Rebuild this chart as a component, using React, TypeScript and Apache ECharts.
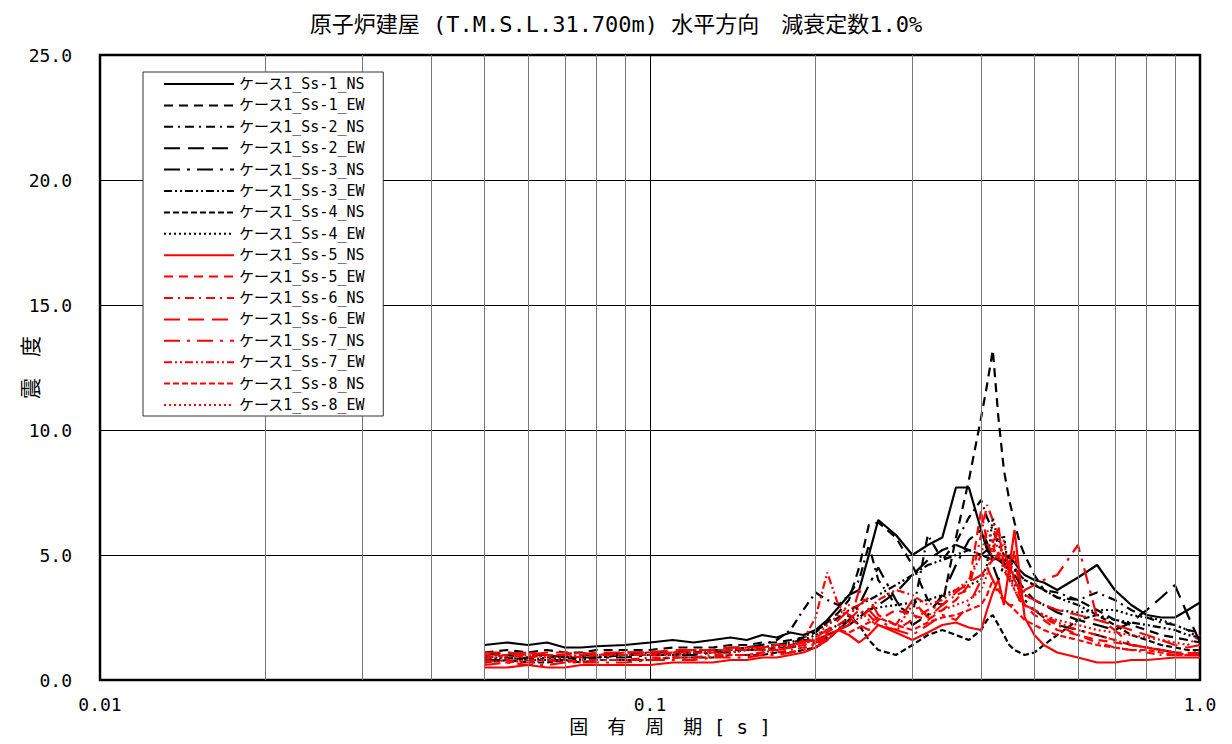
import React, { useEffect, useRef } from "react";
import * as echarts from "echarts";

// Natural period [s]
const periods = [
  0.05, 0.055, 0.06, 0.065, 0.07, 0.075, 0.08, 0.09, 0.1, 0.11, 0.12, 0.13, 0.14, 0.15, 0.16, 0.17, 0.18, 0.19,
  0.2, 0.21, 0.22, 0.23, 0.24, 0.25, 0.26, 0.28, 0.3, 0.32, 0.34, 0.36, 0.38,
  0.4, 0.41, 0.42, 0.43, 0.44, 0.45, 0.46, 0.47, 0.48, 0.5,
  0.52, 0.55, 0.6, 0.65, 0.7, 0.75, 0.8, 0.85, 0.9, 0.95, 1.0,
];

// Response spectra values (seismic intensity) per wave / direction
const ss1NS = [
  1.4, 1.5, 1.4, 1.5, 1.3, 1.3, 1.35, 1.4, 1.5, 1.6, 1.5, 1.6, 1.7, 1.6, 1.8, 1.7, 1.9, 1.8,
  2.0, 2.4, 2.9, 3.4, 3.6, 5.0, 6.4, 5.8, 5.0, 5.4, 5.7, 7.7, 7.7,
  6.0, 5.2, 4.9, 4.8, 4.8, 4.9, 4.7, 4.4, 4.2, 4.0,
  3.9, 3.6, 4.1, 4.6, 3.6, 3.0, 2.6, 2.5, 2.5, 2.8, 3.1,
];
const ss1EW = [
  1.1, 1.2, 1.1, 1.2, 1.1, 1.1, 1.2, 1.2, 1.2, 1.3, 1.3, 1.3, 1.4, 1.4, 1.5, 1.5, 1.6, 1.7,
  1.9, 2.3, 2.7, 3.2, 4.5, 6.2, 6.3, 5.7, 4.6, 3.2, 3.0, 5.7, 8.0,
  10.5, 11.8, 13.2, 10.5, 8.4, 7.2, 6.3, 5.5, 5.0, 4.2,
  3.6, 3.3, 3.2, 2.8, 2.4, 2.2, 2.0, 1.8, 1.7, 1.6, 1.5,
];
const ss2NS = [
  0.9, 1.0, 0.9, 1.0, 0.9, 0.9, 1.0, 1.0, 1.1, 1.0, 1.1, 1.2, 1.2, 1.3, 1.4, 1.6, 2.0, 2.8,
  3.5, 3.2, 3.0, 3.4, 4.0, 5.4, 4.0, 3.0, 2.6, 5.8, 4.8, 5.5, 6.5,
  7.2, 6.5, 6.0, 5.4, 5.0, 4.8, 4.5, 4.2, 4.0, 3.8,
  3.6, 3.5, 3.2, 3.5, 3.2, 2.8, 2.5, 2.3, 2.2, 2.0, 1.9,
];
const ss2EW = [
  1.0, 1.1, 1.0, 1.0, 0.9, 1.0, 1.0, 1.1, 1.1, 1.1, 1.2, 1.2, 1.3, 1.3, 1.4, 1.4, 1.5, 1.6,
  1.6, 1.8, 2.0, 2.2, 2.5, 2.8, 3.0, 3.5, 4.2, 4.8, 5.2, 5.4, 5.2,
  5.0, 5.2, 5.0, 4.8, 4.6, 4.4, 4.2, 3.9, 3.6, 3.2,
  3.0, 2.7, 2.4, 2.2, 2.0, 2.3, 2.8, 3.3, 3.8, 2.6, 1.5,
];
const ss3NS = [
  0.8, 0.8, 0.9, 0.8, 0.8, 0.9, 0.9, 0.9, 1.0, 1.0, 1.0, 1.1, 1.1, 1.2, 1.2, 1.3, 1.3, 1.4,
  1.5, 1.7, 2.0, 2.4, 3.0, 3.8, 4.5, 3.2, 2.2, 2.6, 3.4, 4.6, 5.6,
  6.0, 5.5, 4.6, 4.0, 4.6, 5.0, 4.5, 3.8, 3.2, 2.8,
  2.5, 2.2, 2.0, 1.8, 1.6, 1.4, 1.3, 1.2, 1.1, 1.0, 1.0,
];
const ss3EW = [
  0.9, 0.9, 0.8, 0.9, 0.9, 0.8, 0.9, 1.0, 1.0, 1.0, 1.1, 1.1, 1.2, 1.2, 1.3, 1.4, 1.5, 1.7,
  2.0, 2.2, 2.5, 2.8, 3.0, 3.2, 3.4, 3.8, 4.2, 4.6, 4.8, 5.0, 5.2,
  5.0, 4.9, 4.8, 4.9, 4.7, 4.5, 4.4, 4.2, 4.0, 3.8,
  3.6, 3.3, 3.0, 2.6, 2.4, 2.3, 2.2, 2.1, 2.0, 1.8, 1.7,
];
const ss4NS = [
  0.7, 0.8, 0.7, 0.7, 0.8, 0.7, 0.8, 0.8, 0.8, 0.9, 0.9, 0.9, 1.0, 1.0, 1.0, 1.1, 1.1, 1.2,
  1.3, 1.6, 2.0, 2.6, 2.2, 1.6, 1.2, 1.0, 1.4, 1.8, 2.0, 1.8, 1.6,
  2.0, 2.4, 2.6, 2.2, 1.8, 1.4, 1.2, 1.1, 1.0, 1.1,
  1.4, 1.8, 2.4, 2.6, 2.2, 1.8, 1.6, 1.4, 1.3, 1.2, 1.2,
];
const ss4EW = [
  0.8, 0.9, 0.8, 0.8, 0.9, 0.9, 0.9, 1.0, 1.0, 1.0, 1.1, 1.1, 1.1, 1.2, 1.2, 1.3, 1.4, 1.6,
  1.8, 2.0, 2.2, 2.4, 2.6, 2.8, 2.9, 3.0, 3.1, 3.2, 3.4, 3.6, 3.8,
  4.0, 4.6, 6.5, 5.5, 5.8, 4.2, 3.8, 3.6, 3.4, 3.2,
  3.0, 2.8, 2.7, 2.8, 2.8, 2.6, 2.5, 2.4, 2.2, 2.0, 1.6,
];
const ss5NS = [
  0.5, 0.5, 0.6, 0.5, 0.5, 0.6, 0.6, 0.6, 0.6, 0.7, 0.7, 0.7, 0.8, 0.8, 0.9, 0.9, 1.0, 1.1,
  1.3, 1.6, 2.0, 1.8, 1.5, 1.8, 2.2, 1.9, 1.6, 1.9, 2.2, 2.3, 2.1,
  2.0, 2.8, 3.5, 4.0, 3.0, 4.5, 6.0, 4.2, 2.5, 1.8,
  1.4, 1.1, 0.9, 0.7, 0.7, 0.8, 0.8, 0.85, 0.9, 0.9, 0.9,
];
const ss5EW = [
  0.9, 1.0, 0.9, 1.0, 1.0, 0.9, 1.0, 1.0, 1.0, 1.1, 1.1, 1.1, 1.2, 1.2, 1.2, 1.2, 1.3, 1.4,
  1.6, 1.9, 2.2, 2.5, 2.2, 2.0, 2.4, 2.8, 2.6, 2.4, 2.8, 3.2, 3.8,
  6.8, 5.5, 5.0, 6.2, 4.4, 4.0, 5.2, 3.5, 3.0, 2.6,
  2.4, 2.0, 1.8, 1.6, 1.5, 1.4, 1.3, 1.2, 1.1, 1.1, 1.0,
];
const ss6NS = [
  0.8, 0.7, 0.8, 0.8, 0.7, 0.8, 0.8, 0.8, 0.9, 0.9, 0.9, 1.0, 1.0, 1.0, 1.1, 1.1, 1.2, 1.3,
  1.4, 1.7, 2.0, 2.4, 2.8, 2.6, 2.2, 2.0, 2.4, 2.8, 3.0, 3.4, 3.6,
  5.8, 7.0, 6.4, 5.0, 4.4, 4.8, 4.0, 3.4, 3.0, 2.8,
  2.5, 2.2, 1.8, 1.5, 1.3, 1.2, 1.1, 1.0, 1.0, 1.0, 1.2,
];
const ss6EW = [
  1.1, 1.1, 1.0, 1.1, 1.1, 1.0, 1.1, 1.1, 1.1, 1.2, 1.2, 1.2, 1.3, 1.3, 1.3, 1.4, 1.4, 1.5,
  1.7, 2.0, 2.4, 2.8, 3.0, 3.3, 2.6, 2.2, 3.2, 2.5, 3.0, 3.5, 3.9,
  4.2, 4.5, 4.8, 5.0, 5.2, 4.4, 4.0, 3.6, 3.4, 3.2,
  3.0, 2.8, 2.6, 2.4, 2.2, 2.0, 1.8, 1.6, 1.4, 1.3, 1.4,
];
const ss7NS = [
  0.6, 0.7, 0.6, 0.6, 0.7, 0.7, 0.7, 0.7, 0.8, 0.8, 0.8, 0.9, 0.9, 0.9, 1.0, 1.0, 1.1, 1.2,
  1.5, 1.8, 2.0, 2.2, 3.6, 2.8, 2.4, 2.0, 1.8, 2.2, 2.6, 2.4, 3.0,
  4.0, 4.5, 4.0, 3.4, 3.2, 3.0, 3.0, 3.2, 3.6, 3.8,
  4.0, 4.2, 5.4, 2.5, 2.0, 1.4, 1.3, 1.2, 1.1, 1.0, 1.0,
];
const ss7EW = [
  0.7, 0.8, 0.7, 0.8, 0.8, 0.7, 0.8, 0.8, 0.8, 0.9, 0.9, 0.9, 1.0, 1.0, 1.1, 1.2, 1.3, 1.6,
  2.5, 4.3, 3.0, 2.6, 2.4, 2.8, 3.2, 3.6, 3.4, 3.0, 3.2, 3.6, 4.0,
  5.0, 6.0, 5.5, 6.0, 4.6, 4.0, 3.6, 3.2, 3.0, 2.8,
  2.6, 2.3, 2.0, 1.8, 1.6, 1.4, 1.3, 1.2, 1.1, 1.0, 1.0,
];
const ss8NS = [
  1.0, 1.0, 1.1, 1.0, 1.0, 1.1, 1.0, 1.1, 1.1, 1.1, 1.2, 1.2, 1.2, 1.3, 1.3, 1.4, 1.4, 1.5,
  1.6, 1.8, 2.0, 1.9, 2.1, 2.3, 2.5, 2.2, 2.0, 2.3, 2.5, 2.6, 2.8,
  3.0, 3.4, 4.0, 3.6, 3.2, 3.0, 2.8, 2.6, 2.4, 2.2,
  2.0, 1.8, 1.6, 1.4, 1.3, 1.2, 1.2, 1.1, 1.0, 1.0, 1.1,
];
const ss8EW = [
  0.9, 0.9, 1.0, 0.9, 0.9, 1.0, 1.0, 1.0, 1.0, 1.0, 1.1, 1.1, 1.1, 1.2, 1.2, 1.3, 1.3, 1.4,
  1.7, 2.2, 2.6, 3.0, 2.8, 2.4, 2.2, 2.0, 3.0, 2.6, 2.8, 3.0, 3.2,
  3.6, 4.2, 5.4, 4.8, 5.6, 4.2, 3.6, 3.2, 3.0, 2.8,
  2.6, 2.4, 2.2, 2.0, 1.9, 1.8, 1.7, 1.6, 1.5, 1.4, 1.8,
];

const seriesNames = [
  "ケース1_Ss-1_NS", "ケース1_Ss-1_EW", "ケース1_Ss-2_NS", "ケース1_Ss-2_EW",
  "ケース1_Ss-3_NS", "ケース1_Ss-3_EW", "ケース1_Ss-4_NS", "ケース1_Ss-4_EW",
  "ケース1_Ss-5_NS", "ケース1_Ss-5_EW", "ケース1_Ss-6_NS", "ケース1_Ss-6_EW",
  "ケース1_Ss-7_NS", "ケース1_Ss-7_EW", "ケース1_Ss-8_NS", "ケース1_Ss-8_EW",
];
const seriesValues = [
  ss1NS, ss1EW, ss2NS, ss2EW, ss3NS, ss3EW, ss4NS, ss4EW,
  ss5NS, ss5EW, ss6NS, ss6EW, ss7NS, ss7EW, ss8NS, ss8EW,
];

// x-axis tick labels and minor period grid lines
const xTickLabels: Record<string, string> = { "0.01": "0.01", "0.1": "0.1", "1": "1.0" };
const minorPeriods = [0.02, 0.03, 0.04, 0.05, 0.06, 0.07, 0.08, 0.09, 0.2, 0.3, 0.4, 0.5, 0.6, 0.7, 0.8, 0.9];

// line patterns: solid, dash, dash-dot, long dash, long dash-dot, dash-dot-dot, short dash, dot
const dashPatterns: (string | number[])[] = [
  "solid", [9, 6], [9, 5, 2, 5], [16, 8], [16, 7, 3, 7], [8, 3, 2, 3, 2, 3], [6, 3], [2, 3],
];

const MONO = "'DejaVu Sans Mono', 'Noto Sans CJK JP', monospace";

export default function App() {
  const ref = useRef<HTMLDivElement>(null);

  useEffect(() => {
    if (!ref.current) return;
    const chart = echarts.init(ref.current, undefined, { renderer: "svg" });

    const lines = seriesNames.map((name, i) => ({
      name,
      type: "line",
      symbol: "none",
      z: 3,
      data: periods.map((p, k) => [p, seriesValues[i][k]]),
      lineStyle: {
        color: i < 8 ? "#000000" : "#ff0000",
        width: 2.2,
        type: dashPatterns[i % 8],
      },
      itemStyle: { color: i < 8 ? "#000000" : "#ff0000" },
    }));

    chart.setOption({
      animation: false,
      backgroundColor: "#ffffff",
      title: {
        text: "原子炉建屋 (T.M.S.L.31.700m) 水平方向　減衰定数1.0%",
        left: "center",
        top: 8,
        textStyle: { fontFamily: MONO, fontSize: 22, fontWeight: "normal", color: "#000" },
      },
      grid: {
        left: 100,
        right: 32,
        top: 55,
        bottom: 64,
        outerBoundsMode: "none",
        containLabel: false,
        show: true,
        borderColor: "#000",
        borderWidth: 2.5,
        backgroundColor: "transparent",
      },
      legend: {
        data: seriesNames,
        orient: "vertical",
        left: 143,
        top: 72,
        itemWidth: 70,
        itemHeight: 14,
        itemGap: 5.4,
        padding: [4, 18, 3, 20],
        borderColor: "#333",
        borderWidth: 1,
        borderRadius: 0,
        backgroundColor: "#ffffff",
        itemStyle: { opacity: 0 },
        textStyle: { fontFamily: MONO, fontSize: 15, lineHeight: 16, color: "#000" },
        z: 10,
      },
      xAxis: {
        type: "log",
        logBase: 10,
        min: 0.01,
        max: 1,
        name: "固　有　周　期 [ s ]",
        nameLocation: "middle",
        nameGap: 37,
        nameMoveOverlap: false,
        nameTextStyle: { fontFamily: MONO, fontSize: 19, color: "#000", padding: [0, 0, 0, 40] },
        axisLine: { show: false },
        axisTick: { show: false },
        axisLabel: {
          fontFamily: MONO,
          fontSize: 18,
          color: "#000",
          margin: 15,
          formatter: (v: number) => xTickLabels[String(+v.toPrecision(3))] ?? "",
        },
        splitLine: { show: true, lineStyle: { color: "#000", width: 1 } },
      },
      yAxis: {
        type: "value",
        min: 0,
        max: 25,
        interval: 5,
        name: "震　度",
        nameLocation: "middle",
        nameGap: 59,
        nameMoveOverlap: false,
        nameRotate: 90,
        nameTextStyle: { fontFamily: MONO, fontSize: 21, color: "#000" },
        axisLine: { show: false },
        axisTick: { show: false },
        axisLabel: {
          fontFamily: MONO,
          fontSize: 18,
          color: "#000",
          margin: 28,
          formatter: (v: number) => v.toFixed(1),
        },
        splitLine: { show: true, lineStyle: { color: "#000", width: 1 } },
      },
      series: [
        {
          name: "minor-grid",
          type: "line",
          data: [],
          z: 1,
          silent: true,
          markLine: {
            silent: true,
            symbol: "none",
            label: { show: false },
            lineStyle: { color: "#777", width: 1, type: "solid" },
            data: minorPeriods.map((p) => ({ xAxis: p })),
          },
        },
        ...lines,
      ],
    });

    return () => chart.dispose();
  }, []);

  return (
    <div
      ref={ref}
      style={{ position: "fixed", left: 0, top: 0, width: 1232, height: 744, background: "#fff" }}
    />
  );
}
